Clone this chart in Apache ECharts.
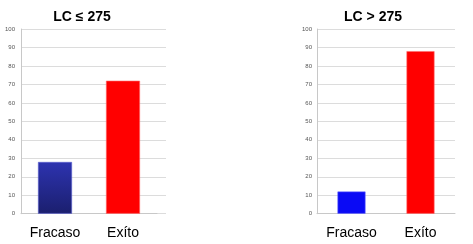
<!DOCTYPE html>
<html><head><meta charset="utf-8">
<script src="https://cdn.jsdelivr.net/npm/echarts@6/dist/echarts.min.js"></script>
<style>html,body{margin:0;padding:0;background:#fff}#c{width:473px;height:244px}</style>
</head><body><div id="c"></div>
<script>
const categories = ['Fracaso', 'Exíto'];
const leftValues = [28, 72];
const rightValues = [12, 88];
const titles = ['LC ≤ 275', 'LC > 275'];
const yMin = 0, yMax = 100, yStep = 10;

const chart = echarts.init(document.getElementById('c'), null, {renderer: 'canvas'});
const font = 'Liberation Sans, Arial, sans-serif';
const gTop = 29, gBottom = 244 - 213.7;

const leftBlue = new echarts.graphic.LinearGradient(0, 0, 0, 1, [
  {offset: 0, color: '#2d33b0'}, {offset: 1, color: '#1b1f6e'}]);
const red = '#ff0000';

chart.setOption({
  animation: false,
  title: [
    {text: titles[0], left: 77, top: 5, textAlign: 'center',
     textStyle: {fontFamily: font, fontSize: 14, fontWeight: 'bold', color: '#000'}},
    {text: titles[1], left: 368, top: 5, textAlign: 'center',
     textStyle: {fontFamily: font, fontSize: 14, fontWeight: 'bold', color: '#000'}}
  ],
  grid: [
    {left: 21, width: 145, top: gTop, bottom: gBottom},
    {left: 21, width: 136, top: gTop, bottom: gBottom},
    {left: 317, width: 138, top: gTop, bottom: gBottom}
  ],
  xAxis: [
    {gridIndex: 0, type: 'value', show: false},
    {gridIndex: 1, type: 'category', data: categories,
     axisLine: {lineStyle: {color: '#c8c8c8'}},
     axisTick: {length: 3, lineStyle: {color: '#c8c8c8'}},
     axisLabel: {fontFamily: font, fontSize: 14, color: '#000', margin: 12}},
    {gridIndex: 2, type: 'category', data: categories,
     axisLine: {lineStyle: {color: '#c8c8c8'}},
     axisTick: {length: 3, lineStyle: {color: '#c8c8c8'}},
     axisLabel: {fontFamily: font, fontSize: 14, color: '#000', margin: 12}}
  ],
  yAxis: [
    {gridIndex: 0, type: 'value', min: yMin, max: yMax, interval: yStep,
     axisLine: {show: true, lineStyle: {color: '#c8c8c8'}},
     axisTick: {show: false},
     splitLine: {lineStyle: {color: '#dcdcdc'}},
     axisLabel: {fontFamily: font, fontSize: 6, color: '#555', margin: 6}},
    {gridIndex: 1, type: 'value', min: yMin, max: yMax, interval: yStep, show: false, splitLine: {show: false}},
    {gridIndex: 2, type: 'value', min: yMin, max: yMax, interval: yStep,
     axisLine: {show: true, lineStyle: {color: '#c8c8c8'}},
     axisTick: {show: false},
     splitLine: {lineStyle: {color: '#dcdcdc'}},
     axisLabel: {fontFamily: font, fontSize: 6, color: '#555', margin: 5}}
  ],
  series: [
    {type: 'bar', xAxisIndex: 1, yAxisIndex: 1, barWidth: 34,
     data: [
       {value: leftValues[0], itemStyle: {color: leftBlue, borderColor: '#5a60d0', borderWidth: 0.6}},
       {value: leftValues[1], itemStyle: {color: red, borderColor: '#ff6a6a', borderWidth: 0.6}}
     ]},
    {type: 'bar', xAxisIndex: 2, yAxisIndex: 2, barWidth: 28,
     data: [
       {value: rightValues[0], itemStyle: {color: '#0a0af5', borderColor: '#5a5aff', borderWidth: 0.6}},
       {value: rightValues[1], itemStyle: {color: red, borderColor: '#ff6a6a', borderWidth: 0.6}}
     ]}
  ]
});
</script></body></html>
